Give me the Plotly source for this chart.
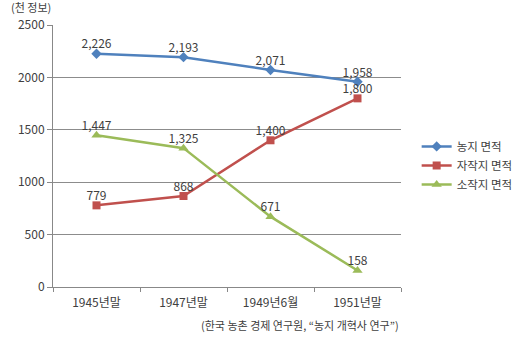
import plotly.graph_objects as go

categories = ["1945년말", "1947년말", "1949년6월", "1951년말"]
farmland = [2226, 2193, 2071, 1958]
owner_land = [779, 868, 1400, 1800]
tenant_land = [1447, 1325, 671, 158]
series_names = ["농지 면적", "자작지 면적", "소작지 면적"]

FONT = "Noto Sans CJK KR"
TXT = "#404040"

fig = go.Figure()
specs = [
    (farmland, series_names[0], "#4F81BD", "diamond", 8),
    (owner_land, series_names[1], "#C0504D", "square", 8),
    (tenant_land, series_names[2], "#9BBB59", "triangle-up", 9),
]
for vals, name, color, sym, size in specs:
    fig.add_trace(go.Scatter(
        x=categories, y=vals, name=name, mode="lines+markers",
        line=dict(color=color, width=2.5),
        marker=dict(symbol=sym, size=size, color=color),
        cliponaxis=False, hoverinfo="skip",
    ))
for vals, name, color, sym, size in specs:
    fig.add_trace(go.Scatter(
        x=categories, y=vals, name=name, mode="markers+text", showlegend=False,
        marker=dict(size=2, opacity=0),
        text=[f"{v:,}" for v in vals], textposition="top center",
        textfont=dict(family=FONT, size=12, color=TXT),
        cliponaxis=False, hoverinfo="skip",
    ))

fig.update_layout(
    width=530, height=347,
    margin=dict(l=53, r=117, t=25, b=60),
    paper_bgcolor="white", plot_bgcolor="white",
    font=dict(family=FONT, size=12, color=TXT),
    showlegend=True,
    legend=dict(x=1.045, y=0.592, xanchor="left", yanchor="top",
                font=dict(family=FONT, size=11.5, color=TXT),
                itemwidth=30, tracegroupgap=4, bgcolor="rgba(0,0,0,0)"),
    xaxis=dict(type="category", range=[-0.5, 3.5], showgrid=False,
               showline=True, linecolor="#888888", linewidth=1,
               ticks="outside", ticklen=4, tickcolor="#888888",
               tickson="boundaries", ticklabelstandoff=5,
               tickfont=dict(family=FONT, size=12, color=TXT)),
    yaxis=dict(range=[0, 2500], dtick=500, showgrid=True, gridcolor="#8c8c8c",
               gridwidth=1, showline=True, linecolor="#888888", linewidth=1,
               ticks="outside", ticklen=5, tickcolor="#888888",
               zeroline=False, tickfont=dict(family=FONT, size=12, color=TXT)),
    annotations=[
        dict(text="(천 정보)", xref="paper", yref="paper", x=-0.125, y=1.0,
             xanchor="left", yanchor="bottom", yshift=9, borderpad=0,
             showarrow=False, font=dict(family=FONT, size=11, color=TXT)),
        dict(text="(한국 농촌 경제 연구원, “농지 개혁사 연구”)", xref="paper", yref="paper",
             x=1.0, y=0, xanchor="right", yanchor="top", yshift=-28, showarrow=False,
             font=dict(family=FONT, size=11, color=TXT)),
    ],
)

fig.write_html("out.html")
